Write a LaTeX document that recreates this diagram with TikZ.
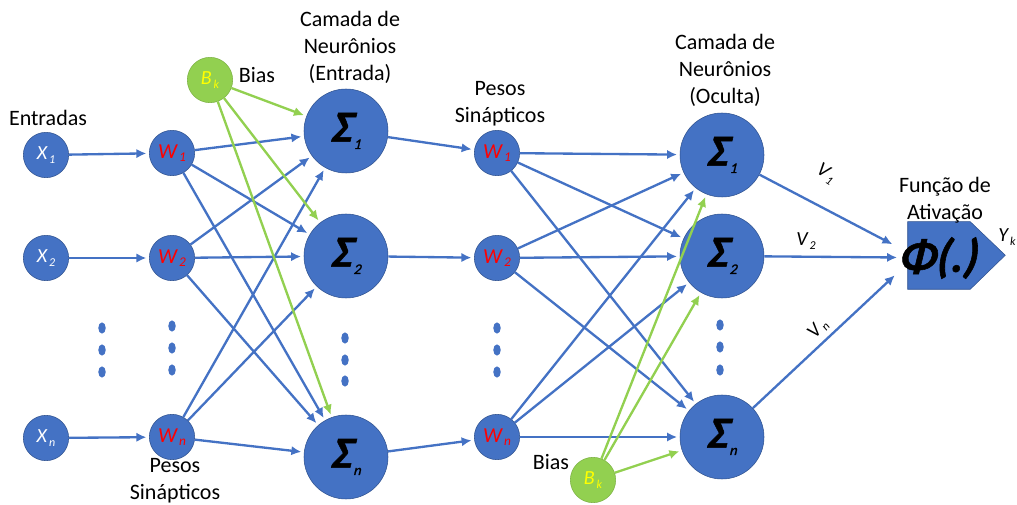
\documentclass[tikz,border=0pt]{standalone}
\usepackage{fontspec}
\setmainfont{Carlito}
\newfontfamily\sumfont{Carlito}[FakeSlant=0.12,FakeBold=1.2]
\usetikzlibrary{arrows.meta}
\definecolor{nblue}{HTML}{4472C4}
\definecolor{nedge}{HTML}{2F528F}
\definecolor{bgreen}{HTML}{92D050}
\definecolor{byellow}{HTML}{FFFF00}
\definecolor{wred}{HTML}{FF0000}
% symbol with a small lowered index
\newcommand\symsub[3]{#1\kern1.5pt\raisebox{-0.35ex}{\fontsize{#3}{#3}\selectfont\mdseries #2}}
\begin{document}
\begin{tikzpicture}[x=0.75pt,y=-0.75pt,
  neuron/.style={circle,fill=nblue,draw=nedge,line width=0.4pt,inner sep=0pt},
  smallnode/.style={neuron,minimum size=34pt},
  sumnode/.style={neuron,minimum size=63pt,font=\fontsize{33}{33}\selectfont\sumfont\bfseries\itshape},
  inputnode/.style={smallnode,text=white,font=\fontsize{15}{15}\selectfont\itshape},
  weightnode/.style={smallnode,text=wred,font=\fontsize{16}{16}\selectfont\itshape},
  biasnode/.style={circle,fill=bgreen,draw=bgreen!85!black,line width=0.4pt,inner sep=0pt,
    minimum size=34pt,text=byellow,font=\fontsize{15}{15}\selectfont\itshape},
  lbl/.style={font=\fontsize{16.5}{20.2}\selectfont,align=center,inner sep=0pt},
  vlbl/.style={font=\fontsize{15}{15}\selectfont\itshape,inner sep=0pt},
  link/.style={draw=nblue,line width=1.75pt,-{Latex[length=7.5pt,width=7pt]},shorten >=2pt},
  glink/.style={link,draw=bgreen},
  dotmark/.style={fill=nblue},
]
\useasboundingbox (0,0) rectangle (1017,505);

% inputs
\node[inputnode] (x1) at (46,155) {\symsub{X}{1}{9}};
\node[inputnode] (x2) at (46,258) {\symsub{X}{2}{9}};
\node[inputnode] (xn) at (46,438) {\symsub{X}{n}{9}};

% first weights
\node[weightnode] (w1) at (172,153) {\symsub{W}{1}{10}};
\node[weightnode] (w2) at (172,258) {\symsub{W}{2}{10}};
\node[weightnode] (wn) at (172,437) {\symsub{W}{n}{10}};

% input layer neurons
\node[sumnode] (s1) at (346,131) {\symsub{Σ}{1}{11}};
\node[sumnode] (s2) at (346,256) {\symsub{Σ}{2}{11}};
\node[sumnode] (sn) at (346,457) {\symsub{Σ}{n}{11}};

% second weights
\node[weightnode] (v1) at (497,153) {\symsub{W}{1}{10}};
\node[weightnode] (v2) at (497,258) {\symsub{W}{2}{10}};
\node[weightnode] (vn) at (497,437) {\symsub{W}{n}{10}};

% hidden layer neurons
\node[sumnode] (h1) at (722,155) {\symsub{Σ}{1}{11}};
\node[sumnode] (h2) at (722,256) {\symsub{Σ}{2}{11}};
\node[sumnode] (hn) at (722,437) {\symsub{Σ}{n}{11}};

% bias units
\node[biasnode] (b1) at (210,80) {\symsub{B}{k}{9}};
\node[biasnode] (b2) at (593,480) {\symsub{B}{k}{9}};

% activation block
\node[minimum width=46.5pt,minimum height=50.25pt,inner sep=0pt] (phi) at (939,255.5) {};
\filldraw[fill=nblue,draw=nedge,line width=0.4pt]
  (phi.north west) -- (phi.north east) -- ++(35,33.5) -- (phi.south east)
  -- (phi.south west) -- cycle;
\node[font=\fontsize{35}{35}\selectfont\sumfont\bfseries\itshape,inner sep=0pt] (phitxt) at (938,258) {Φ(.)};
\node[vlbl] (yk) at (1007,237) {\symsub{Y}{k}{9}};

% ellipsis dots
\foreach \x/\ys in {102/{328,350,372},172/{326,348,370},345/{338,360,381},497/{328,350,372},720/{325,347,370}}{
  \foreach \y in \ys { \fill[dotmark] (\x,\y) ellipse [x radius=2.8pt, y radius=4.2pt]; }
}

% labels
\node[lbl] (lin) at (48,118) {Entradas};
\node[lbl] (lb1) at (257,75) {Bias};
\node[lbl] (lb2) at (551,462) {Bias};
\node[lbl] (lcin) at (350,47) {Camada de\\Neurônios\\(Entrada)};
\node[lbl] (lcoc) at (725,70) {Camada de\\Neurônios\\(Oculta)};
\node[lbl] (lp1) at (175,481) {Pesos\\Sinápticos};
\node[lbl] (lp2) at (500,104) {Pesos\\Sinápticos};
\node[lbl] (lfa) at (945,200) {Função de\\Ativação};

% inputs to weights
\foreach \i in {1,2,n} { \draw[link] (x\i) -- (w\i); }

% weights to input layer
\foreach \i in {1,2,n} {
  \foreach \j in {1,2,n} { \draw[link] (w\i) -- (s\j); }
}

% input layer to second weights
\foreach \i in {1,2,n} { \draw[link] (s\i) -- (v\i); }

% second weights to hidden layer
\foreach \i in {1,2,n} {
  \foreach \j in {1,2,n} { \draw[link] (v\i) -- (h\j); }
}

% bias connections
\foreach \j in {1,2,n} { \draw[glink] (b1) -- (s\j); }
\foreach \j in {1,2,n} { \draw[glink] (b2) -- (h\j); }

% hidden layer to activation
\draw[link] (h1) -- ([shift={(-13,-10)}]phi.west);
\draw[link] (h2) -- ([shift={(-8,2)}]phi.west);
\draw[link] (hn) -- ([shift={(-11,18)}]phi.west);

\node[vlbl,rotate=-33] (lv1) at (826,174) {\symsub{V}{1}{9}};
\node[vlbl] (lv2) at (806,241) {\symsub{V}{2}{9}};
\node[vlbl,rotate=48] (lvn) at (818,329) {\symsub{V}{n}{9}};
\end{tikzpicture}
\end{document}
